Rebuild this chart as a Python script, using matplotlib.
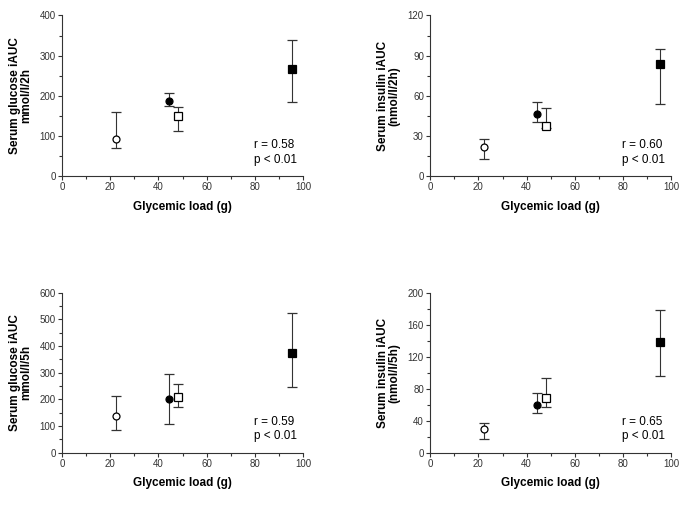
import numpy as np
import matplotlib
matplotlib.use('Agg')
import matplotlib.pyplot as plt
from matplotlib.ticker import MultipleLocator

plt.rcParams['font.family'] = ['Liberation Sans', 'DejaVu Sans']

# glycemic load (g) of the four test meals
gl = [22.5, 44.5, 48.0, 95.5]
markers = ['o', 'o', 's', 's']
faces = ['white', 'black', 'white', 'black']

# values: centre, upper end, lower end of the bars
glu2_mid = [92, 187, 150, 267]
glu2_hi = [160, 207, 172, 338]
glu2_lo = [70, 175, 112, 184]

ins2_mid = [21.5, 46, 37.7, 84]
ins2_hi = [28, 55, 50.5, 95]
ins2_lo = [12.5, 40, 36, 53.5]

glu5_mid = [137, 201, 210, 374]
glu5_hi = [214, 294, 259, 524]
glu5_lo = [85, 109, 171, 245]

ins5_mid = [30, 59, 68.5, 138.5]
ins5_hi = [36.5, 74, 93, 178.5]
ins5_lo = [17, 49, 56.5, 95.5]

panels = [
    (glu2_mid, glu2_hi, glu2_lo, 400, 100, 'Serum glucose iAUC\nmmol/l/2h', 'r = 0.58\np < 0.01'),
    (ins2_mid, ins2_hi, ins2_lo, 120, 30, 'Serum insulin iAUC\n(nmol/l/2h)', 'r = 0.60\np < 0.01'),
    (glu5_mid, glu5_hi, glu5_lo, 600, 100, 'Serum glucose iAUC\nmmol/l/5h', 'r = 0.59\np < 0.01'),
    (ins5_mid, ins5_hi, ins5_lo, 200, 40, 'Serum insulin iAUC\n(nmol/l/5h)', 'r = 0.65\np < 0.01'),
]

fig = plt.figure(figsize=(6.85, 5.25), dpi=100)
rects = [
    [0.0905, 0.6648, 0.352, 0.3057],
    [0.628, 0.6648, 0.352, 0.3057],
    [0.0905, 0.1377, 0.352, 0.305],
    [0.628, 0.1377, 0.352, 0.305],
]

for rect, (mid, hi, lo, ymax, ystep, ylab, note) in zip(rects, panels):
    ax = fig.add_axes(rect)
    mid = np.array(mid, dtype=float)
    yerr = [mid - np.array(lo), np.array(hi) - mid]
    for i in range(len(gl)):
        ax.errorbar(gl[i], mid[i], yerr=[[yerr[0][i]], [yerr[1][i]]],
                    fmt=markers[i], mfc=faces[i], mec='black', mew=0.9,
                    ms=5.5 if markers[i] == 's' else 5, ecolor='#333333',
                    elinewidth=0.8, capsize=3.5, capthick=0.8, zorder=3)
    ax.set_xlim(0, 100)
    ax.set_ylim(0, ymax)
    ax.xaxis.set_major_locator(MultipleLocator(20))
    ax.xaxis.set_minor_locator(MultipleLocator(10))
    ax.yaxis.set_major_locator(MultipleLocator(ystep))
    ax.yaxis.set_minor_locator(MultipleLocator(ystep / 2))
    ax.spines['top'].set_visible(False)
    ax.spines['right'].set_visible(False)
    for s in ['left', 'bottom']:
        ax.spines[s].set_linewidth(0.8)
        ax.spines[s].set_color('#333333')
    ax.tick_params(which='major', length=3, width=0.8, labelsize=7,
                   colors='#333333', pad=1.5)
    ax.tick_params(which='minor', length=2, width=0.8, colors='#333333')
    ax.set_xlabel('Glycemic load (g)', fontsize=8.5, fontweight='bold', labelpad=6)
    ax.set_ylabel(ylab, fontsize=8.5, fontweight='bold', labelpad=5,
                  linespacing=1.0)
    ax.text(0.795, 0.065, note, transform=ax.transAxes, fontsize=8.5,
            va='bottom', ha='left', linespacing=1.25)

fig.savefig('out.png', dpi=100)
